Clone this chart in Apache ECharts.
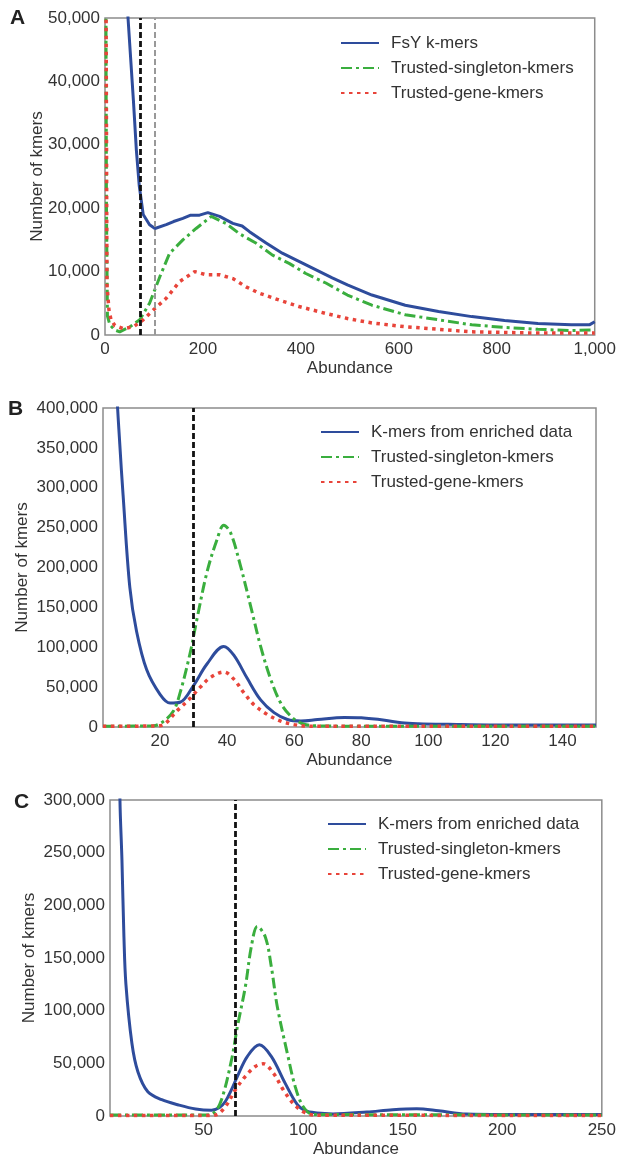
<!DOCTYPE html>
<html>
<head>
<meta charset="utf-8">
<script src="https://cdn.jsdelivr.net/npm/echarts@6/dist/echarts.min.js"></script>
<style>
  html, body { margin: 0; padding: 0; background: #fff; }
  #main { width: 619px; height: 1159px; }
</style>
</head>
<body>
<div id="main"></div>
<script>
// panel A: FsY k-mers
const fsyX = [30, 47, 58, 64, 70, 78, 91, 102, 125, 140, 159, 175, 193, 210, 234, 261, 280, 295, 329, 362, 396, 430, 464, 495, 545, 613, 681, 749, 816, 884, 952, 989, 1000]
const fsyY = [80000, 50000, 37000, 29200, 23500, 19000, 17400, 16800, 17400, 17900, 18400, 18900, 18900, 19300, 18700, 17600, 17200, 16300, 14500, 12900, 11600, 10300, 9000, 7900, 6300, 4700, 3700, 2900, 2300, 1800, 1600, 1600, 2100]
const singletonAX = [1, 3, 5, 10, 20, 30, 40, 51, 71, 91, 112, 132, 159, 186, 217, 247, 274, 308, 342, 376, 410, 451, 495, 545, 613, 681, 749, 816, 884, 952, 1000]
const singletonAY = [80000, 20000, 3000, 1600, 800, 500, 900, 1300, 2400, 5000, 9200, 12900, 15000, 16800, 18700, 17600, 16000, 14500, 12600, 11300, 9700, 8200, 6300, 4700, 3200, 2400, 1600, 1200, 900, 700, 800]
const geneAX = [1, 4, 8, 12, 20, 37, 58, 78, 98, 125, 152, 183, 207, 234, 261, 288, 315, 356, 396, 451, 495, 545, 613, 681, 749, 816, 884, 1000]
const geneAY = [80000, 8000, 4000, 2500, 1500, 1000, 1300, 2400, 3900, 5800, 8400, 10000, 9500, 9500, 8900, 7600, 6600, 5500, 4500, 3400, 2600, 1900, 1300, 900, 500, 400, 300, 300]
const cutoffsA = [72, 102]

// panel B: enriched data
const enrichedBX = [3, 7, 8, 9, 11, 13, 16, 20, 23, 26, 30, 34, 39, 42, 46, 50, 54, 58, 62, 67, 75, 80, 87, 92, 97, 106, 120, 150]
const enrichedBY = [900000, 430000, 355000, 290000, 175000, 120000, 72000, 41000, 30000, 31000, 52000, 79000, 101000, 90000, 61000, 34000, 18000, 9400, 7500, 9400, 12000, 11500, 8500, 5300, 4100, 3300, 2500, 2500]
const singletonBX = [3, 18, 21, 24, 26, 29, 31, 34, 37, 39, 41, 44, 47, 50, 53, 56, 59, 62, 66, 80, 150]
const singletonBY = [1000, 1500, 7000, 20000, 43000, 93000, 135000, 194000, 235000, 253000, 244000, 202000, 152000, 101000, 60000, 30000, 13600, 5000, 1500, 1000, 1000]
const geneBX = [3, 18, 21, 25, 29, 32, 35, 39, 42, 45, 48, 52, 56, 60, 64, 150]
const geneBY = [1000, 1200, 3000, 20000, 36000, 50000, 62000, 69000, 60000, 43000, 28000, 15700, 7300, 3000, 1000, 1000]
const cutoffsB = [30]

// panel C: enriched data
const enrichedCX = [3, 8, 9, 10, 11, 14, 17, 22, 29, 37, 46, 54, 58, 61, 64, 67, 72, 78, 84, 91, 97, 101, 107, 115, 132, 145, 157, 168, 182, 200, 250]
const enrichedCY = [900000, 300000, 243000, 170000, 125000, 69000, 42000, 23000, 15500, 10700, 6600, 5400, 8000, 14000, 25000, 37700, 56600, 67600, 56600, 31000, 11000, 5000, 2800, 2000, 3800, 6000, 6900, 5000, 1900, 1500, 1500]
const singletonCX = [3, 50, 55, 59, 64, 67, 71, 74, 77, 81, 84, 87, 92, 96, 100, 105, 250]
const singletonCY = [1000, 1000, 2800, 15500, 53000, 85000, 123000, 161000, 180000, 170000, 142000, 104000, 60000, 28000, 9000, 1500, 1000]
const geneCX = [3, 50, 56, 61, 66, 71, 76, 80, 85, 90, 95, 100, 106, 250]
const geneCY = [500, 500, 1000, 9000, 25000, 37700, 47000, 49600, 40800, 25000, 12000, 4000, 800, 500]
const cutoffsC = [66]

const legendA = ['FsY k-mers', 'Trusted-singleton-kmers', 'Trusted-gene-kmers']
const legendBC = ['K-mers from enriched data', 'Trusted-singleton-kmers', 'Trusted-gene-kmers']

const FONT = '"Liberation Sans", Arial, sans-serif'
const TXT = '#333'
const BLUE = '#2e4c9c'
const GREEN = '#3aae3e'
const RED = '#e8443a'

const zip = (xs, ys) => xs.map((x, i) => [x, ys[i]])
const fmt = v => Number(v).toLocaleString('en-US')

const grids = [
  { left: 105, top: 18, width: 492, height: 317 },
  { left: 103, top: 408, width: 493, height: 319 },
  { left: 110, top: 800, width: 493, height: 318 },
].map(g => Object.assign({ show: true, borderColor: '#8c8c8c', borderWidth: 1.5, containLabel: false }, g))

function xAxis(idx, min, max, ticks) {
  return {
    type: 'value', gridIndex: idx, min, max,
    name: 'Abundance', nameLocation: 'middle', nameGap: 25,
    nameTextStyle: { fontFamily: FONT, fontSize: 17, color: TXT },
    axisLine: { show: false }, axisTick: { show: false }, splitLine: { show: false },
    axisLabel: { customValues: ticks, formatter: fmt, fontFamily: FONT, fontSize: 17, color: TXT, margin: 6 },
  }
}

function yAxis(idx, max, interval, gap) {
  return {
    type: 'value', gridIndex: idx, min: 0, max, interval,
    name: 'Number of kmers', nameLocation: 'middle', nameGap: gap, nameMoveOverlap: false,
    nameTextStyle: { fontFamily: FONT, fontSize: 17, color: TXT },
    axisLine: { show: false }, axisTick: { show: false }, splitLine: { show: false },
    axisLabel: { formatter: fmt, fontFamily: FONT, fontSize: 17, color: TXT, margin: 5 },
  }
}

function line(idx, name, data, color, type, width, smooth) {
  return {
    type: 'line', name, xAxisIndex: idx, yAxisIndex: idx,
    data, showSymbol: false, symbol: 'none', smooth,
    lineStyle: { color, type, width, cap: 'butt' }, itemStyle: { color },
    clip: true, z: name === 'Trusted-gene-kmers' ? 3 : 2,
  }
}

function cutoffs(idx, values, colors, widths) {
  return {
    type: 'line', xAxisIndex: idx, yAxisIndex: idx, data: [], silent: true,
    markLine: {
      symbol: 'none', silent: true, label: { show: false },
      data: values.map((v, i) => ({
        xAxis: v,
        lineStyle: { color: colors[i], type: [6, 3], width: widths[i] },
      })),
    },
    z: 4,
  }
}

function legend(names, left, top) {
  return {
    data: names, orient: 'vertical', left, top, padding: 0,
    itemWidth: 38, itemHeight: 14, itemGap: 7,
    itemStyle: { color: 'transparent', borderColor: 'transparent', borderWidth: 0 },
    textStyle: { fontFamily: FONT, fontSize: 17, color: TXT, lineHeight: 18, padding: [0, 0, 0, 7] },
    selectedMode: false,
  }
}

const dash = [11, 4, 3, 4]
const dot = [3.5, 4.5]

const option = {
  animation: false,
  backgroundColor: '#fff',
  grid: grids,
  xAxis: [
    xAxis(0, 0, 1000, [0, 200, 400, 600, 800, 1000]),
    xAxis(1, 3, 150, [20, 40, 60, 80, 100, 120, 140]),
    xAxis(2, 3, 250, [50, 100, 150, 200, 250]),
  ],
  yAxis: [
    yAxis(0, 50000, 10000, 59),
    yAxis(1, 400000, 50000, 72),
    yAxis(2, 300000, 50000, 72),
  ],
  legend: [
    legend(legendA, 340, 34),
    legend(legendBC, 320, 423),
    legend(legendBC, 327, 815),
  ],
  graphic: [
    { type: 'text', left: 10, top: 8, style: { text: 'A', font: 'bold 21px ' + FONT, fill: '#222' } },
    { type: 'text', left: 8, top: 399, style: { text: 'B', font: 'bold 21px ' + FONT, fill: '#222' } },
    { type: 'text', left: 14, top: 792, style: { text: 'C', font: 'bold 21px ' + FONT, fill: '#222' } },
  ],
  series: [
    line(0, legendA[0], zip(fsyX, fsyY), BLUE, 'solid', 3, false),
    line(0, legendA[1], zip(singletonAX, singletonAY), GREEN, dash, 3, false),
    line(0, legendA[2], zip(geneAX, geneAY), RED, dot, 3.5, false),
    cutoffs(0, cutoffsA, ['#111', '#999'], [2.8, 2]),

    line(1, legendBC[0], zip(enrichedBX, enrichedBY), BLUE, 'solid', 3, 0.35),
    line(1, legendBC[1], zip(singletonBX, singletonBY), GREEN, dash, 3, 0.35),
    line(1, legendBC[2], zip(geneBX, geneBY), RED, dot, 3.5, 0.35),
    cutoffs(1, cutoffsB, ['#111'], [2.8]),

    line(2, legendBC[0], zip(enrichedCX, enrichedCY), BLUE, 'solid', 3, 0.35),
    line(2, legendBC[1], zip(singletonCX, singletonCY), GREEN, dash, 3, 0.35),
    line(2, legendBC[2], zip(geneCX, geneCY), RED, dot, 3.5, 0.35),
    cutoffs(2, cutoffsC, ['#111'], [2.8]),
  ],
}

const chart = echarts.init(document.getElementById('main'), null, { renderer: 'canvas' })
chart.setOption(option)
</script>
</body>
</html>
